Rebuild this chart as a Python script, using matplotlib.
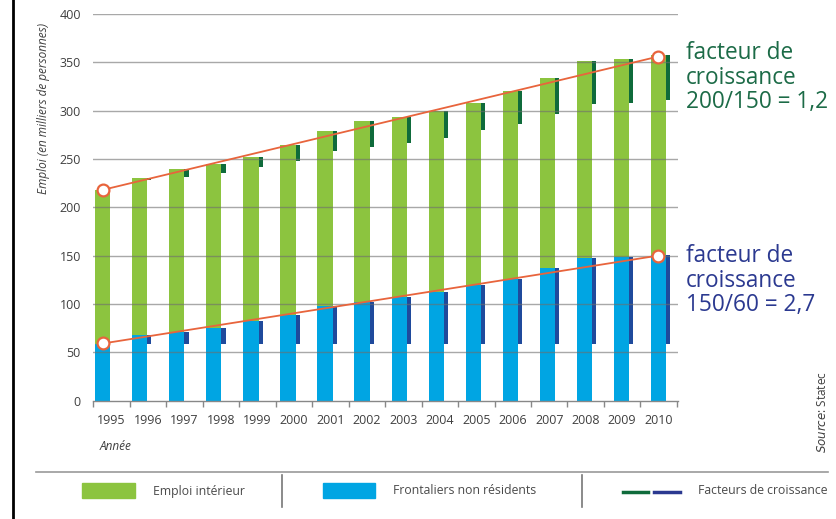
import numpy as np
import matplotlib
matplotlib.use('Agg')
from matplotlib import pyplot as plt
from matplotlib.patches import Rectangle

plt.rcParams['font.family'] = ['Open Sans', 'DejaVu Sans']

# données (milliers de personnes)
annees = ['1995', '1996', '1997', '1998', '1999', '2000', '2001', '2002',
          '2003', '2004', '2005', '2006', '2007', '2008', '2009', '2010']
emploi_interieur = [218, 230, 240, 245, 252, 264, 279, 289, 293, 300, 308, 320, 334, 351, 353, 358]
frontaliers = [58, 68, 71, 75, 82, 88, 98, 102, 107, 112, 120, 126, 137, 147, 148, 151]
tendance_emploi = [218, 356]
tendance_front = [59, 150]
yticks = [0, 50, 100, 150, 200, 250, 300, 350, 400]

vert = '#8cc43f'
bleu = '#00a5e3'
vert_fonce = '#0f6b3b'
bleu_fonce = '#1f4a9c'
orange = '#e8643c'
gris = '#3f3f3f'

x = np.arange(len(annees))
tot = np.array(emploi_interieur)
fro = np.array(frontaliers)
# croissance : partie résidente (vert) et frontaliers (bleu) depuis 1995
dom = tot - fro
bas_vert = tot - (dom - dom[0])
bas_bleu = np.full(len(x), fro[0])

fig = plt.figure(figsize=(8.36, 5.19), dpi=100)
ax = fig.add_axes([93.3 / 836, 1 - 400.5 / 519, (678 - 93.3) / 836, (400.5 - 14) / 519])

ax.bar(x, tot, width=0.41, color=vert, zorder=1)
ax.bar(x, fro, width=0.41, color=bleu, zorder=2)
ax.bar(x + 0.26, tot - bas_vert, bottom=bas_vert, width=0.11, color=vert_fonce, zorder=2)
ax.bar(x + 0.26, fro - bas_bleu, bottom=bas_bleu, width=0.11, color=bleu_fonce, zorder=2)

for v in yticks[1:]:
    ax.axhline(v, color='#6e6e6e', lw=1.0, alpha=0.6, zorder=3)

ends = [x[0], x[-1]]
ax.plot(ends, tendance_emploi, color=orange, lw=1.3, zorder=4)
ax.plot(ends, tendance_front, color=orange, lw=1.3, zorder=4)
ax.plot(ends, tendance_emploi, 'o', ms=8.5, mfc='white', mec=orange, mew=1.6, zorder=5)
ax.plot(ends, tendance_front, 'o', ms=8.5, mfc='white', mec=orange, mew=1.6, zorder=5)

ax.set_xlim(-0.25, 15.53)
ax.set_ylim(0, 400)
ax.set_yticks(yticks)
ax.tick_params(axis='y', length=0, pad=9, labelsize=9, labelcolor=gris)

bords = np.linspace(-0.256, 15.5, len(x) + 1)
ax.set_xticks(bords)
ax.set_xticklabels([])
ax.set_xticks((bords[:-1] + bords[1:]) / 2, minor=True)
ax.set_xticklabels(annees, minor=True)
ax.tick_params(axis='x', which='major', length=4, width=1, color='#888888', direction='out')
ax.tick_params(axis='x', which='minor', length=0, pad=10, labelsize=9, labelcolor=gris)

for s in ['top', 'right', 'left']:
    ax.spines[s].set_visible(False)
ax.spines['bottom'].set_color('#888888')
ax.spines['bottom'].set_linewidth(1.0)

ax.set_ylabel('Emploi (en milliers de personnes)', style='italic', fontsize=8.5, color=gris)
ax.yaxis.set_label_coords(-0.074, 0.755)

# calque pour les annotations et la légende (coordonnées en pixels)
ov = fig.add_axes([0, 0, 1, 1], zorder=10)
ov.set_xlim(0, 836)
ov.set_ylim(519, 0)
ov.axis('off')

ov.text(686, 41, 'facteur de\ncroissance\n200/150 = 1,2', color='#1c6b47', fontsize=16.3,
        va='top', ha='left', linespacing=1.04)
ov.text(686, 244, 'facteur de\ncroissance\n150/60 = 2,7', color='#2b3990', fontsize=16.3,
        va='top', ha='left', linespacing=1.04)

ov.text(100, 446, 'Année', style='italic', fontsize=8.5, color=gris, va='center', ha='left')
ov.text(822, 412, r'$\it{Source}$: Statec', rotation=90, fontsize=8.5, color=gris, va='center', ha='center')

# bordure gauche
ov.plot([13, 13], [0, 519], color='black', lw=2)

# légende
ov.plot([36, 828], [472, 472], color='#999999', lw=1.2)
ov.plot([281.7, 281.7], [475, 507], color='#777777', lw=1.2)
ov.plot([581.7, 581.7], [475, 507], color='#777777', lw=1.2)
ov.add_patch(Rectangle((82, 483), 53, 15, color=vert))
ov.add_patch(Rectangle((323, 483), 52, 15, color=bleu))
ov.plot([623, 648], [492.3, 492.3], color=vert_fonce, lw=2.5)
ov.plot([654, 680], [492.3, 492.3], color='#2b3990', lw=2.5)
ov.text(153, 491, 'Emploi intérieur', fontsize=8.8, color='#4a4a4a', va='center', ha='left')
ov.text(393, 491, 'Frontaliers non résidents', fontsize=8.8, color='#4a4a4a', va='center', ha='left')
ov.text(698, 491, 'Facteurs de croissance', fontsize=8.8, color='#4a4a4a', va='center', ha='left')

plt.savefig('out.png', dpi=100)
